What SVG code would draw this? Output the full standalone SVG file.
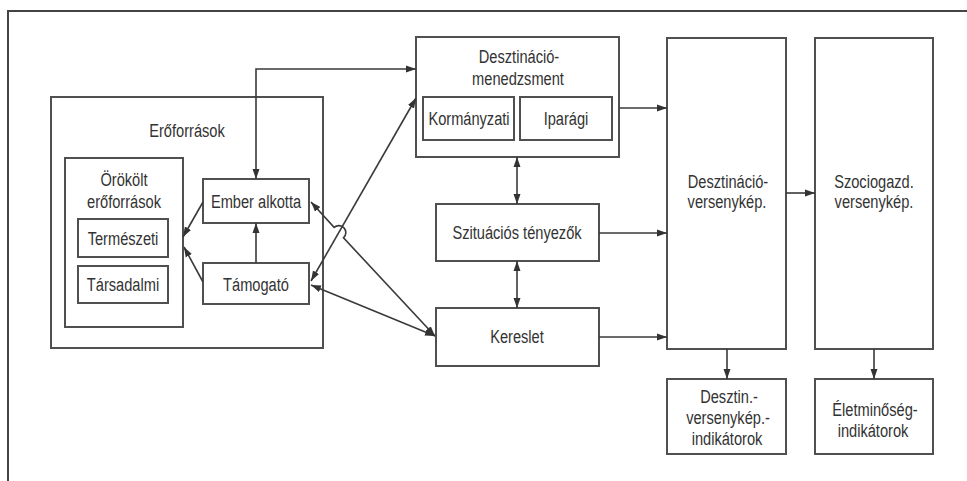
<svg xmlns="http://www.w3.org/2000/svg" width="967" height="481" viewBox="0 0 967 481">
<style>
.box{fill:#fff;stroke:#505050;stroke-width:2}
.t{font-family:"Liberation Sans",Arial,sans-serif;font-size:19px;fill:#333;text-anchor:middle}
.c{fill:none;stroke:#3a3a3a;stroke-width:1.6}
.one{marker-end:url(#ah)}
.two{marker-start:url(#ah);marker-end:url(#ah)}
</style>
<defs>
<marker id="ah" markerUnits="userSpaceOnUse" markerWidth="10" markerHeight="8" refX="10" refY="3.5" orient="auto-start-reverse" viewBox="0 0 10 7">
<path d="M0,0 L10,3.5 L0,7 z" fill="#333"/>
</marker>
</defs>
<rect width="967" height="481" fill="#fff"/>
<path d="M8,481 L8,11 L967,11" fill="none" stroke="#444" stroke-width="2"/>

<g id="eroforrasok">
<rect class="box" x="51" y="97" width="272" height="251"/>
<text class="t" transform="translate(187,137) scale(0.77,1)">Erőforrások</text>
</g>
<g id="orokolt">
<rect class="box" x="65" y="158" width="118" height="169"/>
<text class="t" transform="translate(124,186) scale(0.77,1)">Örökölt</text>
<text class="t" transform="translate(124,208) scale(0.77,1)">erőforrások</text>
</g>
<g id="termeszeti">
<rect class="box" x="78" y="219" width="90" height="38"/>
<text class="t" transform="translate(123,245) scale(0.77,1)">Természeti</text>
</g>
<g id="tarsadalmi">
<rect class="box" x="78" y="266" width="90" height="37"/>
<text class="t" transform="translate(123,291) scale(0.77,1)">Társadalmi</text>
</g>
<g id="ember">
<rect class="box" x="203" y="179" width="106" height="44"/>
<text class="t" transform="translate(256,208) scale(0.77,1)">Ember alkotta</text>
</g>
<g id="tamogato">
<rect class="box" x="203" y="263" width="106" height="41"/>
<text class="t" transform="translate(256,291) scale(0.77,1)">Támogató</text>
</g>
<g id="menedzsment">
<rect class="box" x="416" y="37" width="203" height="120"/>
<text class="t" transform="translate(519,63) scale(0.77,1)">Desztináció-</text>
<text class="t" transform="translate(518,85) scale(0.77,1)">menedzsment</text>
</g>
<g id="kormanyzati">
<rect class="box" x="423" y="97" width="91" height="43"/>
<text class="t" transform="translate(469,125) scale(0.77,1)">Kormányzati</text>
</g>
<g id="iparagi">
<rect class="box" x="520" y="97" width="92" height="43"/>
<text class="t" transform="translate(566,125) scale(0.77,1)">Iparági</text>
</g>
<g id="szituacios">
<rect class="box" x="436" y="204" width="163" height="57"/>
<text class="t" transform="translate(517,239) scale(0.77,1)">Szituációs tényezők</text>
</g>
<g id="kereslet">
<rect class="box" x="436" y="308" width="163" height="58"/>
<text class="t" transform="translate(517,343) scale(0.77,1)">Kereslet</text>
</g>
<g id="versenykep">
<rect class="box" x="667" y="38" width="119" height="311"/>
<text class="t" transform="translate(728,188) scale(0.77,1)">Desztináció-</text>
<text class="t" transform="translate(727,208) scale(0.77,1)">versenykép.</text>
</g>
<g id="szociogazd">
<rect class="box" x="815" y="38" width="118" height="311"/>
<text class="t" transform="translate(874,188) scale(0.77,1)">Szociogazd.</text>
<text class="t" transform="translate(874,208) scale(0.77,1)">versenykép.</text>
</g>
<g id="indikatorok1">
<rect class="box" x="667" y="379" width="119" height="75"/>
<text class="t" transform="translate(729,403) scale(0.77,1)">Desztin.-</text>
<text class="t" transform="translate(728,424) scale(0.77,1)">versenykép.-</text>
<text class="t" transform="translate(727,445) scale(0.77,1)">indikátorok</text>
</g>
<g id="indikatorok2">
<rect class="box" x="815" y="379" width="118" height="75"/>
<text class="t" transform="translate(875,416) scale(0.77,1)">Életminőség-</text>
<text class="t" transform="translate(873,437) scale(0.77,1)">indikátorok</text>
</g>

<g id="connectors">
<path class="c two" d="M256,179 L256,69 L416,69"/>
<path class="c one" d="M256,263 L256,223"/>
<path class="c one" d="M203,202 L183,237"/>
<path class="c one" d="M203,282 L184,247"/>
<path class="c two" d="M311,281 L416,98"/>
<path class="c two" d="M311,285 L435,336"/>
<path class="c two" d="M435,336 L343.5,237.8 A7,7 0 0 0 334.1,227.4 L311,202"/>
<path class="c two" d="M517,157 L517,204"/>
<path class="c two" d="M517,261 L517,308"/>
<path class="c one" d="M619,108 L667,108"/>
<path class="c one" d="M599,233 L667,233"/>
<path class="c one" d="M599,337 L667,337"/>
<path class="c one" d="M786,193 L815,193"/>
<path class="c one" d="M727,349 L727,379"/>
<path class="c one" d="M874,349 L874,379"/>
</g>
</svg>
